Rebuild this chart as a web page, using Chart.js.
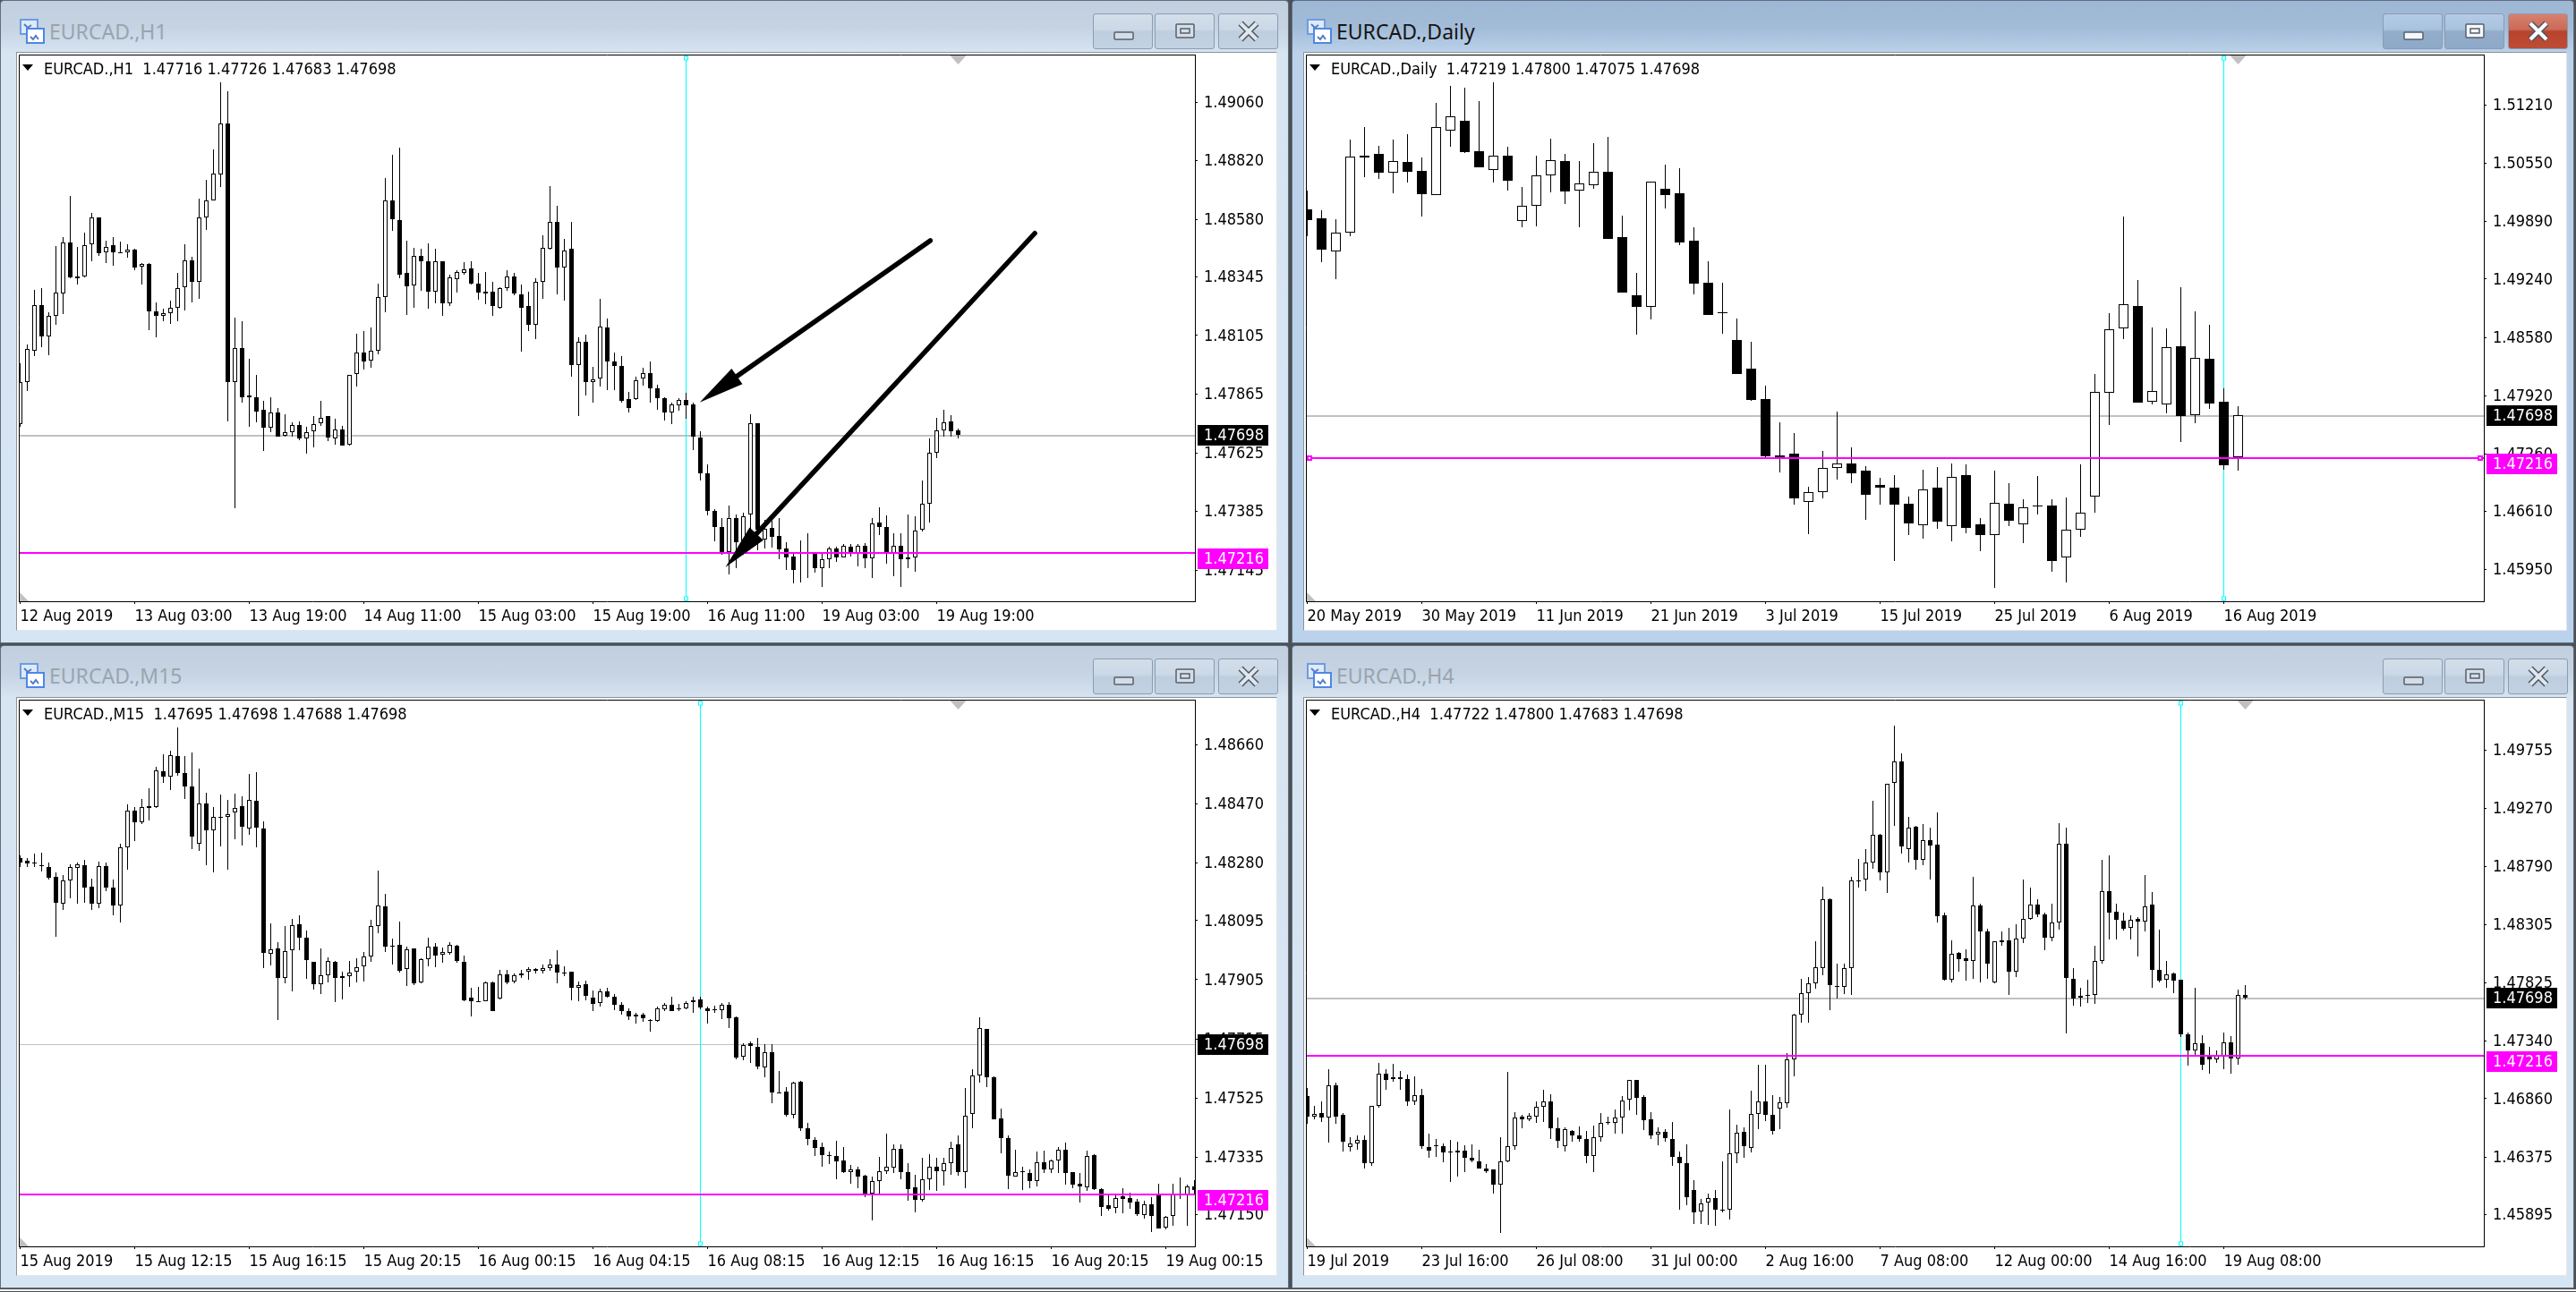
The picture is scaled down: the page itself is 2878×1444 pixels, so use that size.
<!DOCTYPE html>
<html>
<head>
<meta charset="utf-8">
<title>EURCAD</title>
<script src="https://cdn.jsdelivr.net/npm/chart.js@4"></script>
<style>
  html, body { margin: 0; padding: 0; width: 2878px; height: 1444px; background: #4d5054; overflow: hidden; }
  .win { position: absolute; box-sizing: border-box; border: 1px solid #5f6f80; border-radius: 4px 4px 0 0; }
  .client { position: absolute; background: #fff; box-sizing: border-box; border: 1px solid #e4e6e8; border-top-color: #8b9298; border-left-color: #8b9298; }
  .title { position: absolute; font: 23px "Noto Sans", "Open Sans", sans-serif; white-space: nowrap; }
  .btn { position: absolute; width: 67px; height: 40px; box-sizing: border-box; border: 1px solid #8a9db3; border-radius: 3px; }
  .icon, .btn svg { position: absolute; }
  .strip { position: absolute; left: 0; top: 1441px; width: 2878px; height: 2px; background: #f4f4f4; }
  canvas { position: absolute; }
</style>
</head>
<body>
<div class="strip"></div>
<script>
const h1Title = "EURCAD.,H1  1.47716 1.47726 1.47683 1.47698";
const dailyTitle = "EURCAD.,Daily  1.47219 1.47800 1.47075 1.47698";
const m15Title = "EURCAD.,M15  1.47695 1.47698 1.47688 1.47698";
const h4Title = "EURCAD.,H4  1.47722 1.47800 1.47683 1.47698";

const bidPrice = 1.47698;
const levelPrice = 1.47216;

// ---- H1 ----
const h1Labels = ["12 Aug 2019", "13 Aug 03:00", "13 Aug 19:00", "14 Aug 11:00", "15 Aug 03:00", "15 Aug 19:00", "16 Aug 11:00", "19 Aug 03:00", "19 Aug 19:00"];
const h1Ticks = [1.4906, 1.4882, 1.4858, 1.48345, 1.48105, 1.47865, 1.47625, 1.47385, 1.47145];
const h1Open = [
1.47742,1.47913,1.48044,1.48229,1.48100,1.48187,1.48276,1.48486,1.48340,1.48346,
1.48479,1.48588,1.48447,1.48474,1.48444,1.48444,1.48456,1.48385,1.48399,1.48202,
1.48187,1.48195,1.48217,1.48301,1.48412,1.48323,1.48587,1.48659,1.48765,1.48971,
1.47916,1.48052,1.47851,1.47851,1.47800,1.47727,1.47789,1.47696,1.47708,1.47740,
1.47683,1.47715,1.47747,1.47774,1.47683,1.47720,1.47659,1.47947,1.48034,1.48004,
1.48042,1.48261,1.48656,1.48578,1.48360,1.48311,1.48430,1.48410,1.48286,1.48409,
1.48236,1.48335,1.48360,1.48378,1.48316,1.48278,1.48286,1.48217,1.48298,1.48345,
1.48274,1.48224,1.48147,1.48326,1.48459,1.48568,1.48382,1.48459,1.47985,1.48081,
1.47916,1.47928,1.48138,1.47999,1.47982,1.47844,1.47844,1.47928,1.47953,1.47888,
1.47849,1.47792,1.47821,1.47842,1.47822,1.47686,1.47543,1.47386,1.47323,1.47219,
1.47360,1.47260,1.47372,1.47747,1.47271,1.47317,1.47285,1.47233,1.47201,1.47216,
1.47218,1.47216,1.47152,1.47189,1.47233,1.47196,1.47241,1.47216,1.47244,1.47192,
1.47340,1.47323,1.47216,1.47244,1.47189,1.47196,1.47310,1.47416,1.47627,1.47718,
1.47753,1.47716];
const h1High = [
1.47990,1.48069,1.48291,1.48299,1.48200,1.48472,1.48508,1.48676,1.48469,1.48526,
1.48607,1.48588,1.48493,1.48508,1.48489,1.48478,1.48461,1.48402,1.48402,1.48239,
1.48214,1.48246,1.48360,1.48478,1.48427,1.48666,1.48743,1.48866,1.49141,1.49104,
1.48178,1.48163,1.48010,1.47945,1.47836,1.47854,1.47809,1.47784,1.47750,1.47755,
1.47730,1.47777,1.47836,1.47777,1.47764,1.47735,1.47945,1.48113,1.48123,1.48138,
1.48318,1.48750,1.48844,1.48874,1.48494,1.48464,1.48461,1.48483,1.48461,1.48409,
1.48352,1.48373,1.48405,1.48407,1.48360,1.48365,1.48326,1.48304,1.48372,1.48360,
1.48313,1.48284,1.48340,1.48513,1.48716,1.48634,1.48501,1.48568,1.48096,1.48108,
1.47975,1.48254,1.48175,1.48037,1.48022,1.47873,1.47937,1.47974,1.47997,1.47903,
1.47851,1.47831,1.47848,1.47871,1.47831,1.47713,1.47579,1.47394,1.47360,1.47409,
1.47374,1.47380,1.47782,1.47747,1.47352,1.47347,1.47357,1.47260,1.47218,1.47268,
1.47296,1.47216,1.47218,1.47243,1.47243,1.47251,1.47251,1.47251,1.47256,1.47357,
1.47402,1.47370,1.47296,1.47296,1.47374,1.47364,1.47512,1.47683,1.47767,1.47802,
1.47780,1.47726];
const h1Low = [
1.47730,1.47878,1.48021,1.48058,1.48024,1.48150,1.48192,1.48338,1.48315,1.48343,
1.48410,1.48432,1.48402,1.48390,1.48441,1.48422,1.48373,1.48313,1.48126,1.48098,
1.48162,1.48153,1.48165,1.48207,1.48242,1.48256,1.48536,1.48656,1.48713,1.47753,
1.47399,1.47831,1.47733,1.47750,1.47632,1.47710,1.47690,1.47693,1.47693,1.47676,
1.47621,1.47649,1.47737,1.47674,1.47659,1.47654,1.47653,1.47898,1.47965,1.47974,
1.48029,1.48200,1.48533,1.48340,1.48189,1.48219,1.48288,1.48215,1.48237,1.48185,
1.48226,1.48281,1.48352,1.48315,1.48251,1.48234,1.48185,1.48215,1.48288,1.48271,
1.48039,1.48125,1.48091,1.48256,1.48456,1.48274,1.48247,1.47937,1.47775,1.47859,
1.47831,1.47896,1.47881,1.47881,1.47831,1.47789,1.47841,1.47901,1.47831,1.47802,
1.47757,1.47742,1.47797,1.47764,1.47638,1.47512,1.47370,1.47263,1.47209,1.47128,
1.47155,1.47209,1.47310,1.47226,1.47234,1.47239,1.47189,1.47145,1.47092,1.47095,
1.47112,1.47134,1.47075,1.47155,1.47179,1.47196,1.47201,1.47162,1.47155,1.47112,
1.47290,1.47172,1.47122,1.47078,1.47155,1.47139,1.47305,1.47340,1.47604,1.47691,
1.47691,1.47683];
const h1Close = [
1.47915,1.48049,1.48229,1.48100,1.48187,1.48281,1.48486,1.48341,1.48348,1.48476,
1.48588,1.48442,1.48469,1.48447,1.48441,1.48456,1.48383,1.48397,1.48202,1.48187,
1.48195,1.48217,1.48299,1.48412,1.48323,1.48587,1.48659,1.48766,1.48971,1.47915,
1.48052,1.47854,1.47858,1.47795,1.47727,1.47792,1.47693,1.47711,1.47738,1.47683,
1.47710,1.47743,1.47770,1.47686,1.47720,1.47656,1.47943,1.48034,1.48000,1.48044,
1.48261,1.48656,1.48582,1.48355,1.48308,1.48432,1.48409,1.48286,1.48409,1.48236,
1.48341,1.48363,1.48377,1.48318,1.48279,1.48283,1.48224,1.48298,1.48345,1.48276,
1.48220,1.48147,1.48326,1.48462,1.48568,1.48382,1.48454,1.47985,1.48078,1.47916,
1.47926,1.48140,1.48000,1.47979,1.47836,1.47807,1.47923,1.47952,1.47888,1.47848,
1.47792,1.47822,1.47841,1.47821,1.47690,1.47543,1.47389,1.47320,1.47219,1.47360,
1.47260,1.47364,1.47748,1.47310,1.47315,1.47280,1.47229,1.47199,1.47145,1.47214,
1.47216,1.47155,1.47191,1.47233,1.47199,1.47244,1.47216,1.47244,1.47192,1.47338,
1.47323,1.47219,1.47244,1.47189,1.47197,1.47307,1.47416,1.47627,1.47718,1.47750,
1.47715,1.47698];

// arrows on the H1 chart, in bar index and price
const h1ArrowFromBar = [127.1, 141.7];
const h1ArrowFromPrice = [1.48493, 1.48523];
const h1ArrowToBar = [94.9, 98.5];
const h1ArrowToPrice = [1.47831, 1.47157];

// ---- Daily ----
const dailyLabels = ["20 May 2019", "30 May 2019", "11 Jun 2019", "21 Jun 2019", "3 Jul 2019", "15 Jul 2019", "25 Jul 2019", "6 Aug 2019", "16 Aug 2019"];
const dailyTicks = [1.5121, 1.5055, 1.4989, 1.4924, 1.4858, 1.4792, 1.4726, 1.4661, 1.4595];
const dailyOpen = [
1.50028,1.49930,1.49549,1.49767,1.50632,1.50655,1.50446,1.50567,1.50460,1.50186,
1.50925,1.51027,1.50688,1.50479,1.50637,1.49893,1.50065,1.50418,1.50576,1.50246,
1.50307,1.50455,1.49716,1.49056,1.48921,1.50260,1.50214,1.49674,1.49200,1.48861,
1.48549,1.48228,1.47884,1.47247,1.47261,1.46712,1.46824,1.47098,1.47154,1.47070,
1.46912,1.46880,1.46698,1.46452,1.46880,1.46447,1.47024,1.46466,1.46340,1.46698,
1.46461,1.46675,1.46680,1.46084,1.46401,1.46773,1.47949,1.48679,1.48935,1.47847,
1.47819,1.48479,1.47698,1.48340,1.47851,1.47219];
const dailyHigh = [
1.50237,1.50014,1.49916,1.50818,1.50962,1.50748,1.50818,1.50879,1.50618,1.51237,
1.51427,1.51409,1.51255,1.51469,1.50739,1.50283,1.50637,1.50827,1.50655,1.50576,
1.50781,1.50851,1.49958,1.49312,1.50339,1.50535,1.50497,1.49828,1.49442,1.49200,
1.48795,1.48530,1.48033,1.47619,1.47498,1.46889,1.47293,1.47740,1.47335,1.47121,
1.46991,1.47024,1.46777,1.47084,1.47107,1.47154,1.47145,1.46535,1.47070,1.46931,
1.46749,1.47010,1.46749,1.46768,1.47145,1.48168,1.48856,1.49949,1.49228,1.48693,
1.48684,1.49149,1.48874,1.48721,1.48005,1.47800];
const dailyLow = [
1.49725,1.49432,1.49242,1.49725,1.50395,1.50372,1.50214,1.50335,1.49949,1.50186,
1.50739,1.50669,1.50507,1.50335,1.50242,1.49828,1.49837,1.50223,1.50088,1.49828,
1.50260,1.49698,1.49088,1.48614,1.48786,1.50042,1.49623,1.49070,1.48833,1.48623,
1.48168,1.47861,1.47224,1.47052,1.46689,1.46354,1.46759,1.46973,1.46931,1.46517,
1.46689,1.46043,1.46345,1.46303,1.46415,1.46270,1.46363,1.46159,1.45740,1.46447,
1.46247,1.46573,1.45931,1.45801,1.46317,1.46596,1.47591,1.48563,1.47842,1.47824,
1.47721,1.47396,1.47610,1.47772,1.47084,1.47075];
const dailyClose = [
1.49907,1.49572,1.49763,1.50628,1.50614,1.50446,1.50572,1.50455,1.50200,1.50958,
1.51079,1.50679,1.50507,1.50632,1.50349,1.50065,1.50409,1.50581,1.50228,1.50321,
1.50451,1.49698,1.49088,1.48926,1.50339,1.50190,1.49656,1.49191,1.48833,1.48851,
1.48168,1.47875,1.47233,1.47224,1.46759,1.46824,1.47098,1.47149,1.47042,1.46801,
1.46875,1.46689,1.46475,1.46856,1.46494,1.47005,1.46424,1.46345,1.46703,1.46508,
1.46652,1.46661,1.46043,1.46401,1.46591,1.47958,1.48670,1.48954,1.47842,1.47977,
1.48465,1.47689,1.48344,1.47833,1.47135,1.47698];

// ---- M15 ----
const m15Labels = ["15 Aug 2019", "15 Aug 12:15", "15 Aug 16:15", "15 Aug 20:15", "16 Aug 00:15", "16 Aug 04:15", "16 Aug 08:15", "16 Aug 12:15", "16 Aug 16:15", "16 Aug 20:15", "19 Aug 00:15"];
const m15Ticks = [1.4866, 1.4847, 1.4828, 1.48095, 1.47905, 1.47715, 1.47525, 1.47335, 1.4715];
const m15Open = [
1.48296,1.48287,1.48281,1.48273,1.48267,1.48237,1.48148,1.48223,1.48263,1.48274,
1.48205,1.48148,1.48271,1.48200,1.48143,1.48330,1.48448,1.48411,1.48457,1.48461,
1.48575,1.48559,1.48624,1.48570,1.48527,1.48342,1.48470,1.48384,1.48428,1.48429,
1.48442,1.48464,1.48392,1.48480,1.48391,1.47987,1.48006,1.47910,1.47999,1.48083,
1.48040,1.47962,1.47890,1.47920,1.47962,1.47910,1.47916,1.47930,1.47949,1.47979,
1.48078,1.48140,1.48015,1.48016,1.47940,1.48006,1.47896,1.47971,1.48012,1.47986,
1.47990,1.48014,1.47962,1.47848,1.47837,1.47836,1.47897,1.47844,1.47922,1.47900,
1.47918,1.47932,1.47940,1.47933,1.47942,1.47955,1.47929,1.47930,1.47878,1.47890,
1.47848,1.47829,1.47868,1.47849,1.47825,1.47804,1.47787,1.47792,1.47774,1.47774,
1.47809,1.47824,1.47813,1.47813,1.47832,1.47843,1.47813,1.47811,1.47807,1.47825,
1.47783,1.47657,1.47702,1.47690,1.47624,1.47671,1.47544,1.47545,1.47471,1.47576,
1.47427,1.47389,1.47366,1.47340,1.47338,1.47325,1.47287,1.47296,1.47276,1.47219,
1.47259,1.47289,1.47301,1.47362,1.47287,1.47238,1.47198,1.47264,1.47305,1.47289,
1.47316,1.47376,1.47287,1.47474,1.47597,1.47748,1.47592,1.47459,1.47397,1.47272,
1.47289,1.47284,1.47259,1.47318,1.47296,1.47325,1.47358,1.47287,1.47248,1.47239,
1.47340,1.47232,1.47179,1.47173,1.47208,1.47203,1.47191,1.47149,1.47182,1.47214,
1.47109,1.47145,1.47216,1.47216,1.47242];
const m15High = [
1.48304,1.48296,1.48310,1.48314,1.48281,1.48250,1.48241,1.48277,1.48281,1.48289,
1.48230,1.48285,1.48283,1.48227,1.48342,1.48469,1.48460,1.48485,1.48519,1.48590,
1.48631,1.48641,1.48717,1.48624,1.48636,1.48584,1.48506,1.48460,1.48501,1.48482,
1.48503,1.48493,1.48565,1.48572,1.48413,1.48087,1.48026,1.48078,1.48101,1.48113,
1.48062,1.47963,1.48006,1.47978,1.47965,1.47932,1.47966,1.47975,1.47995,1.48097,
1.48257,1.48180,1.48038,1.48093,1.48012,1.48007,1.47975,1.48040,1.48023,1.48009,
1.48027,1.48016,1.47982,1.47880,1.47882,1.47900,1.47900,1.47938,1.47938,1.47926,
1.47936,1.47945,1.47942,1.47954,1.47971,1.48001,1.47949,1.47932,1.47898,1.47902,
1.47869,1.47876,1.47880,1.47859,1.47832,1.47813,1.47799,1.47799,1.47779,1.47819,
1.47829,1.47849,1.47827,1.47835,1.47849,1.47849,1.47819,1.47821,1.47829,1.47832,
1.47786,1.47701,1.47706,1.47717,1.47697,1.47699,1.47613,1.47560,1.47577,1.47580,
1.47445,1.47398,1.47381,1.47354,1.47386,1.47366,1.47309,1.47305,1.47279,1.47272,
1.47336,1.47411,1.47376,1.47376,1.47314,1.47279,1.47334,1.47345,1.47332,1.47334,
1.47385,1.47406,1.47556,1.47618,1.47783,1.47748,1.47593,1.47491,1.47405,1.47358,
1.47305,1.47296,1.47354,1.47356,1.47328,1.47368,1.47382,1.47288,1.47283,1.47356,
1.47345,1.47235,1.47216,1.47219,1.47236,1.47220,1.47199,1.47196,1.47206,1.47248,
1.47146,1.47248,1.47268,1.47245,1.47261];
const m15Low = [
1.48267,1.48267,1.48267,1.48254,1.48227,1.48042,1.48128,1.48168,1.48148,1.48152,
1.48128,1.48135,1.48190,1.48111,1.48089,1.48259,1.48350,1.48404,1.48416,1.48456,
1.48538,1.48515,1.48562,1.48485,1.48326,1.48318,1.48274,1.48249,1.48332,1.48259,
1.48355,1.48335,1.48371,1.48331,1.47941,1.47951,1.47776,1.47894,1.47867,1.48001,
1.47909,1.47872,1.47860,1.47897,1.47832,1.47841,1.47882,1.47896,1.47898,1.47963,
1.48055,1.47993,1.47955,1.47929,1.47884,1.47888,1.47892,1.47949,1.47946,1.47961,
1.47985,1.47959,1.47835,1.47788,1.47835,1.47835,1.47805,1.47843,1.47890,1.47894,
1.47912,1.47904,1.47926,1.47925,1.47933,1.47892,1.47916,1.47840,1.47836,1.47839,
1.47804,1.47819,1.47847,1.47807,1.47792,1.47776,1.47763,1.47770,1.47739,1.47771,
1.47805,1.47803,1.47805,1.47811,1.47799,1.47809,1.47763,1.47799,1.47779,1.47750,
1.47649,1.47646,1.47637,1.47617,1.47591,1.47507,1.47539,1.47464,1.47460,1.47418,
1.47372,1.47338,1.47303,1.47312,1.47265,1.47283,1.47248,1.47235,1.47206,1.47131,
1.47219,1.47281,1.47283,1.47265,1.47195,1.47157,1.47192,1.47230,1.47226,1.47243,
1.47279,1.47276,1.47234,1.47429,1.47575,1.47559,1.47455,1.47348,1.47232,1.47271,
1.47230,1.47236,1.47240,1.47283,1.47283,1.47285,1.47247,1.47235,1.47188,1.47227,
1.47228,1.47146,1.47163,1.47153,1.47153,1.47169,1.47147,1.47137,1.47094,1.47105,
1.47102,1.47113,1.47199,1.47113,1.47216];
const m15Close = [
1.48283,1.48279,1.48278,1.48270,1.48234,1.48151,1.48223,1.48267,1.48275,1.48200,
1.48148,1.48270,1.48202,1.48145,1.48331,1.48448,1.48411,1.48460,1.48464,1.48578,
1.48559,1.48626,1.48570,1.48525,1.48364,1.48470,1.48384,1.48428,1.48425,1.48437,
1.48457,1.48397,1.48482,1.48393,1.47991,1.48002,1.47910,1.47997,1.48080,1.48039,
1.47967,1.47890,1.47920,1.47965,1.47910,1.47917,1.47929,1.47946,1.47979,1.48078,
1.48144,1.48011,1.48012,1.47933,1.48002,1.47892,1.47971,1.48011,1.47982,1.47993,
1.48016,1.47965,1.47839,1.47836,1.47836,1.47896,1.47805,1.47922,1.47896,1.47920,
1.47925,1.47940,1.47933,1.47943,1.47954,1.47928,1.47926,1.47878,1.47888,1.47853,
1.47828,1.47868,1.47851,1.47824,1.47803,1.47788,1.47792,1.47782,1.47776,1.47812,
1.47823,1.47805,1.47809,1.47829,1.47840,1.47815,1.47804,1.47808,1.47824,1.47782,
1.47656,1.47695,1.47691,1.47625,1.47673,1.47543,1.47541,1.47470,1.47575,1.47429,
1.47393,1.47365,1.47340,1.47338,1.47321,1.47287,1.47296,1.47272,1.47219,1.47259,
1.47289,1.47305,1.47362,1.47287,1.47232,1.47198,1.47264,1.47305,1.47289,1.47314,
1.47365,1.47288,1.47468,1.47597,1.47750,1.47592,1.47456,1.47395,1.47275,1.47287,
1.47287,1.47257,1.47318,1.47296,1.47324,1.47358,1.47284,1.47247,1.47240,1.47338,
1.47232,1.47175,1.47170,1.47203,1.47200,1.47188,1.47151,1.47182,1.47146,1.47106,
1.47143,1.47216,1.47215,1.47240,1.47230];

// ---- H4 ----
const h4Labels = ["19 Jul 2019", "23 Jul 16:00", "26 Jul 08:00", "31 Jul 00:00", "2 Aug 16:00", "7 Aug 08:00", "12 Aug 00:00", "14 Aug 16:00", "19 Aug 08:00"];
const h4Ticks = [1.49755, 1.4927, 1.4879, 1.48305, 1.47825, 1.4734, 1.4686, 1.46375, 1.45895];
const h4Open = [
1.46882,1.46710,1.46741,1.46703,1.46974,1.46724,1.46460,1.46487,1.46518,1.46326,
1.46799,1.47067,1.47036,1.47036,1.47026,1.46837,1.46889,1.46460,1.46470,1.46467,
1.46419,1.46415,1.46429,1.46371,1.46340,1.46281,1.46271,1.46148,1.46340,1.46463,
1.46707,1.46690,1.46710,1.46792,1.46837,1.46614,1.46467,1.46594,1.46556,1.46525,
1.46384,1.46542,1.46666,1.46659,1.46703,1.46854,1.47012,1.46871,1.46686,1.46559,
1.46587,1.46525,1.46377,1.46326,1.46100,1.45925,1.45997,1.46034,1.45938,1.45938,
1.46405,1.46587,1.46453,1.46734,1.46837,1.46727,1.46779,1.46823,1.47187,1.47561,
1.47736,1.47818,1.47945,1.48518,1.47797,1.47787,1.47945,1.48676,1.48679,1.48820,
1.49049,1.48741,1.49482,1.49660,1.48933,1.49115,1.48844,1.49008,1.48967,1.48381,
1.47845,1.48068,1.48024,1.48007,1.48466,1.48250,1.47825,1.48161,1.48178,1.47918,
1.48188,1.48353,1.48473,1.48391,1.48195,1.48322,1.48977,1.47856,1.47698,1.47722,
1.47722,1.48003,1.48583,1.48415,1.48339,1.48278,1.48350,1.48333,1.48470,1.47931,
1.47849,1.47897,1.47845,1.47393,1.47262,1.47321,1.47218,1.47190,1.47218,1.47328,
1.47194,1.47722];
const h4High = [
1.46950,1.46803,1.46837,1.47108,1.46995,1.46738,1.46542,1.46556,1.46556,1.46803,
1.47159,1.47105,1.47146,1.47087,1.47057,1.47043,1.46943,1.46573,1.46522,1.46487,
1.46515,1.46504,1.46470,1.46477,1.46439,1.46316,1.46275,1.46539,1.47081,1.46751,
1.46727,1.46738,1.46837,1.46937,1.46899,1.46703,1.46618,1.46597,1.46631,1.46590,
1.46635,1.46741,1.46710,1.46772,1.46882,1.47019,1.47012,1.46892,1.46751,1.46624,
1.46607,1.46666,1.46419,1.46480,1.46185,1.46024,1.46069,1.46103,1.46336,1.46768,
1.46642,1.46618,1.46923,1.47139,1.47139,1.46892,1.46875,1.47242,1.47568,1.47852,
1.47870,1.48168,1.48624,1.48525,1.47979,1.47979,1.48700,1.48854,1.48933,1.49334,
1.49060,1.49478,1.49955,1.49729,1.49197,1.49128,1.49142,1.49111,1.49238,1.48408,
1.48175,1.48075,1.48099,1.48700,1.48480,1.48271,1.48171,1.48250,1.48278,1.48305,
1.48682,1.48610,1.48514,1.48408,1.48483,1.49145,1.49108,1.47948,1.47784,1.47845,
1.48127,1.48847,1.48878,1.48483,1.48408,1.48381,1.48367,1.48720,1.48573,1.48261,
1.48003,1.47904,1.47845,1.47410,1.47784,1.47386,1.47293,1.47259,1.47406,1.47379,
1.47767,1.47800];
const h4Low = [
1.46652,1.46686,1.46666,1.46494,1.46648,1.46419,1.46419,1.46436,1.46278,1.46299,
1.46786,1.46930,1.47002,1.46937,1.46803,1.46806,1.46446,1.46367,1.46374,1.46333,
1.46165,1.46216,1.46247,1.46329,1.46281,1.46240,1.46069,1.45743,1.46333,1.46439,
1.46611,1.46676,1.46659,1.46666,1.46522,1.46449,1.46422,1.46504,1.46504,1.46323,
1.46247,1.46504,1.46642,1.46570,1.46566,1.46762,1.46727,1.46597,1.46528,1.46473,
1.46504,1.46299,1.45938,1.45973,1.45818,1.45818,1.45808,1.45801,1.45918,1.45853,
1.46323,1.46367,1.46412,1.46607,1.46672,1.46563,1.46607,1.46786,1.47043,1.47489,
1.47492,1.47770,1.47887,1.47592,1.47695,1.47732,1.47722,1.48614,1.48580,1.48768,
1.48676,1.48566,1.49128,1.48899,1.48820,1.48765,1.48802,1.48682,1.48322,1.47842,
1.47825,1.47911,1.47839,1.47852,1.47825,1.47852,1.47821,1.48127,1.47725,1.47873,
1.48151,1.48346,1.48367,1.48096,1.48164,1.48261,1.47403,1.47629,1.47626,1.47653,
1.47650,1.47979,1.48185,1.48185,1.48254,1.48185,1.48038,1.48250,1.47780,1.47825,
1.47784,1.47736,1.47369,1.47132,1.47225,1.47094,1.47070,1.47153,1.47105,1.47070,
1.47139,1.47683];
const h4Close = [
1.46707,1.46734,1.46700,1.46971,1.46714,1.46504,1.46491,1.46518,1.46323,1.46799,
1.47067,1.47012,1.47022,1.47022,1.46837,1.46889,1.46467,1.46429,1.46463,1.46415,
1.46412,1.46429,1.46371,1.46343,1.46281,1.46254,1.46148,1.46340,1.46467,1.46703,
1.46686,1.46720,1.46792,1.46837,1.46614,1.46508,1.46604,1.46556,1.46522,1.46384,
1.46542,1.46659,1.46655,1.46703,1.46844,1.47016,1.46865,1.46683,1.46556,1.46587,
1.46532,1.46377,1.46326,1.46041,1.45918,1.45990,1.46031,1.45938,1.45935,1.46408,
1.46580,1.46467,1.46734,1.46837,1.46727,1.46590,1.46830,1.47187,1.47561,1.47736,
1.47818,1.47955,1.48518,1.47804,1.47787,1.47945,1.48672,1.48669,1.48820,1.49053,
1.48741,1.49475,1.49660,1.48953,1.49111,1.48844,1.49008,1.48964,1.48374,1.47849,
1.48065,1.48017,1.48003,1.48466,1.48250,1.47983,1.48164,1.48178,1.47911,1.48188,
1.48353,1.48473,1.48387,1.48195,1.48322,1.48977,1.47863,1.47691,1.47715,1.47712,
1.48003,1.48583,1.48408,1.48346,1.48274,1.48346,1.48329,1.48456,1.47928,1.47839,
1.47894,1.47842,1.47393,1.47262,1.47321,1.47139,1.47187,1.47218,1.47328,1.47194,
1.47722,1.47698];

const fontFamily = '"DejaVu Sans Condensed", "DejaVu Sans", sans-serif';
const chartFont = `18px ${fontFamily}`;

function addDiv(parent, cls, css) {
  const el = document.createElement("div");
  el.className = cls;
  Object.assign(el.style, css);
  parent.appendChild(el);
  return el;
}

function addIcon(parent, x, y) {
  const el = addDiv(parent, "icon", { left: x + "px", top: y + "px", width: "28px", height: "28px" });
  el.innerHTML = '<svg width="28" height="28" style="position:absolute">' +
    '<rect x="1" y="1" width="19" height="16" fill="#dfeaf8" stroke="#6f9be0" stroke-width="2"/>' +
    '<rect x="8" y="11" width="19" height="16" fill="#fff" stroke="#4f86e8" stroke-width="2"/>' +
    '<path d="M5 6l4 4 4-3M12 20l3 3 3-4 3 4" fill="none" stroke="#4f7fc8" stroke-width="2"/></svg>';
}

function addButtons(win, cfg) {
  const glyphColor = cfg.active ? "#f4f8fc" : "#d5dee8";
  const fill = cfg.active
    ? "linear-gradient(#b3cbe6 0%, #a9c2de 45%, #92acca 50%, #8fa9c8 100%)"
    : "linear-gradient(#d3deea 0%, #cbd8e6 45%, #bfcedf 50%, #c3d2e2 100%)";
  const closeFill = "linear-gradient(#d9806f 0%, #c96a57 45%, #b8432c 50%, #bd4d36 100%)";
  const right = cfg.clientRight;
  const xs = [right - 207.5, right - 138, right - 67.5];
  ["min", "max", "close"].forEach((kind, i) => {
    const b = addDiv(win, "btn", {
      left: (xs[i] - cfg.x) + "px", top: "14px", background: kind === "close" && cfg.active ? closeFill : fill,
    });
    let glyph = "";
    if (kind === "min") glyph = `<rect x="23" y="20" width="21" height="8" rx="1" fill="${glyphColor}" stroke="#55606c" stroke-width="1.5"/>`;
    if (kind === "max") glyph = `<rect x="23" y="11" width="20" height="15" rx="1" fill="${glyphColor}" stroke="#55606c" stroke-width="1.5"/><rect x="28" y="16" width="10" height="5" fill="none" stroke="#55606c" stroke-width="1.5"/>`;
    if (kind === "close") glyph = `<path d="M24 10l18 18M42 10l-18 18" stroke="#4a5560" stroke-width="7"/><path d="M24 10l18 18M42 10l-18 18" stroke="${cfg.active ? "#fff" : "#dfe6ee"}" stroke-width="4"/>`;
    b.innerHTML = `<svg width="65" height="38" style="left:0;top:0">${glyph}</svg>`;
  });
}

function windowPlugin(cfg) {
  return {
    id: "mt4Objects",
    // bars land on whole pixels so wicks and bodies stay sharp
    afterDatasetsUpdate(chart) {
      chart.getSortedVisibleDatasetMetas().forEach((meta) => {
        meta.data.forEach((bar) => {
          bar.y = Math.round(bar.y);
          bar.base = Math.round(bar.base);
          if (bar.y === bar.base) bar.base = bar.y + 1;
        });
      });
    },
    beforeDatasetsDraw(chart) {
      const { ctx, chartArea: a, scales: { x, y } } = chart;
      ctx.save();
      const by = Math.round(y.getPixelForValue(bidPrice));
      ctx.fillStyle = "#c0c0c0";
      ctx.fillRect(a.left, by, a.right - a.left, cfg.bidWidth);
      const vx = Math.round(x.getPixelForValue(cfg.cursorBar) - 0.5) + 0.5;
      ctx.strokeStyle = "#00ffff";
      ctx.lineWidth = 1;
      ctx.beginPath(); ctx.moveTo(vx, a.top); ctx.lineTo(vx, a.bottom); ctx.stroke();
      ctx.fillStyle = "#fff";
      [a.top + 2, a.bottom - 5].forEach((hy) => {
        ctx.fillRect(vx - 2, hy, 4, 4);
        ctx.strokeRect(vx - 2, hy, 4, 4);
      });
      ctx.restore();
    },
    afterDatasetsDraw(chart) {
      const { ctx, chartArea: a, scales: { x, y } } = chart;
      ctx.save();
      ctx.beginPath(); ctx.rect(a.left, a.top, a.right - a.left, a.bottom - a.top); ctx.clip();
      const ly = Math.round(y.getPixelForValue(levelPrice));
      ctx.fillStyle = "#ff00ff";
      ctx.fillRect(a.left, ly - 1, a.right - a.left, 2);
      if (cfg.levelHandles) {
        [a.left + 1, a.right - 7].forEach((hx) => {
          ctx.fillStyle = "#ff00ff";
          ctx.fillRect(hx, ly - 3, 6, 6);
          ctx.fillStyle = "#fff";
          ctx.fillRect(hx + 2, ly - 1, 2, 2);
        });
      }
      // the scroll marker at the top and the corner mark
      ctx.fillStyle = "#c0c0c0";
      const mx = x.getPixelForValue(cfg.lastBar);
      ctx.beginPath(); ctx.moveTo(mx - 9, a.top + 1); ctx.lineTo(mx + 9, a.top + 1); ctx.lineTo(mx, a.top + 11); ctx.fill();
      ctx.beginPath(); ctx.moveTo(a.left + 1, a.bottom - 10); ctx.lineTo(a.left + 11, a.bottom); ctx.lineTo(a.left + 1, a.bottom); ctx.fill();
      if (cfg.arrows) {
        cfg.arrows.fromBar.forEach((b, i) => {
          const x0 = x.getPixelForValue(b), y0 = y.getPixelForValue(cfg.arrows.fromPrice[i]);
          const x1 = x.getPixelForValue(cfg.arrows.toBar[i]), y1 = y.getPixelForValue(cfg.arrows.toPrice[i]);
          const len = Math.hypot(x1 - x0, y1 - y0);
          const ux = (x1 - x0) / len, uy = (y1 - y0) / len;
          ctx.strokeStyle = "#000";
          ctx.lineWidth = 5.5;
          ctx.lineCap = "round";
          ctx.beginPath(); ctx.moveTo(x0, y0); ctx.lineTo(x1 - ux * 40, y1 - uy * 40); ctx.stroke();
          ctx.fillStyle = "#000";
          ctx.beginPath();
          ctx.moveTo(x1, y1);
          ctx.lineTo(x1 - ux * 51 - uy * 10.5, y1 - uy * 51 + ux * 10.5);
          ctx.lineTo(x1 - ux * 51 + uy * 10.5, y1 - uy * 51 - ux * 10.5);
          ctx.fill();
        });
      }
      ctx.restore();
      ctx.save();
      ctx.strokeStyle = "#000";
      ctx.lineWidth = 1;
      ctx.beginPath(); ctx.moveTo(a.left + 0.5, a.bottom); ctx.lineTo(a.left + 0.5, a.top + 0.5); ctx.lineTo(a.right, a.top + 0.5); ctx.stroke();
      ctx.fillStyle = "#000";
      ctx.beginPath(); ctx.moveTo(a.left + 4, a.top + 11); ctx.lineTo(a.left + 16, a.top + 11); ctx.lineTo(a.left + 10, a.top + 18); ctx.fill();
      ctx.font = chartFont;
      ctx.textBaseline = "middle";
      ctx.fillText(cfg.header, a.left + 28, a.top + 17);
      ctx.restore();
    },
    afterDraw(chart) {
      const { ctx, chartArea: a, scales: { y } } = chart;
      const box = (price, bg, shift) => {
        const cy = Math.round(y.getPixelForValue(price)) + shift;
        ctx.fillStyle = bg;
        ctx.fillRect(a.right + 3, cy - 11, 79, 23);
        ctx.fillStyle = "#fff";
        ctx.font = chartFont;
        ctx.textBaseline = "middle";
        ctx.textAlign = "left";
        ctx.fillText(price.toFixed(5), a.right + 10, cy + 1);
      };
      ctx.save();
      box(levelPrice, "#ff00ff", 6);
      box(bidPrice, "#000", 0);
      ctx.restore();
    },
  };
}

function addChartWindow(cfg) {
  const win = addDiv(document.body, "win", {
    left: cfg.x + "px", top: cfg.y + "px", width: cfg.w + "px", height: cfg.h + "px",
    background: cfg.active
      ? "linear-gradient(#9db7d4 0, #a2bbd7 30px, #bcd2ea 58px, #bad2ec 100%)"
      : "linear-gradient(#c1cfde 0, #c5d3e2 30px, #d7e4f2 58px, #d6e5f4 100%)",
  });
  addIcon(win, cfg.iconX - cfg.x, cfg.y ? 19 : 20);
  addDiv(win, "title", { left: (cfg.iconX + 33 - cfg.x) + "px", top: cfg.y ? "17px" : "18px", color: cfg.active ? "#151515" : "#9aa4ae" }).textContent = cfg.title;
  addButtons(win, cfg);
  addDiv(document.body, "client", {
    left: (cfg.plotX - 3) + "px", top: (cfg.plotY - 3) + "px",
    width: (cfg.clientRight - cfg.plotX + 3) + "px", height: (cfg.plotH + 36) + "px",
  });

  const yAxisWidth = 90, xAxisHeight = 30;
  const canvas = document.createElement("canvas");
  canvas.width = cfg.plotW + yAxisWidth;
  canvas.height = cfg.plotH + xAxisHeight;
  canvas.style.left = cfg.plotX + "px";
  canvas.style.top = cfg.plotY + "px";
  canvas.style.width = canvas.width + "px";
  canvas.style.height = canvas.height + "px";
  document.body.appendChild(canvas);

  const bodyColors = cfg.close.map((c, i) => (c >= cfg.open[i] ? "#ffffff" : "#000000"));
  const firstPx = 1.5;
  const tickFont = { family: fontFamily, size: 18 };

  new Chart(canvas.getContext("2d"), {
    type: "bar",
    data: {
      datasets: [
        {
          label: "body",
          data: cfg.open.map((o, i) => ({ x: i, y: [o, cfg.close[i]] })),
          grouped: false,
          barThickness: cfg.bodyWidth,
          backgroundColor: bodyColors,
          borderColor: "#000000",
          borderWidth: 1,
          borderSkipped: false,
          inflateAmount: 0,
        },
        {
          label: "wick",
          data: cfg.high.map((h, i) => ({ x: i, y: [cfg.low[i], h] })),
          grouped: false,
          barThickness: 1,
          backgroundColor: "#000000",
          borderWidth: 0,
          inflateAmount: 0,
        },
      ],
    },
    plugins: [windowPlugin(cfg)],
    options: {
      responsive: false,
      animation: false,
      devicePixelRatio: 1,
      layout: { padding: 0 },
      plugins: { legend: { display: false }, tooltip: { enabled: false }, title: { display: false } },
      scales: {
        x: {
          type: "linear",
          offset: false,
          min: -firstPx / cfg.barStep,
          max: (cfg.plotW - firstPx) / cfg.barStep,
          grid: { display: true, offset: false, drawOnChartArea: false, drawTicks: true, tickLength: 3, tickColor: "#000" },
          border: { display: true, color: "#000", width: 1 },
          afterBuildTicks: (s) => { s.ticks = cfg.labels.map((_, i) => ({ value: i * cfg.labelEvery })); },
          afterFit: (s) => { s.height = xAxisHeight; s.paddingLeft = 0; s.paddingRight = 0; },
          ticks: {
            autoSkip: false, maxRotation: 0, minRotation: 0, align: "start", padding: 4,
            color: "#000", font: tickFont,
            callback: (v) => cfg.labels[Math.round(v / cfg.labelEvery)],
          },
        },
        y: {
          type: "linear",
          position: "right",
          min: cfg.priceMin,
          max: cfg.priceMax,
          beginAtZero: false,
          grid: { display: true, drawOnChartArea: false, drawTicks: true, tickLength: 3, tickColor: "#000" },
          border: { display: true, color: "#000", width: 1 },
          afterBuildTicks: (s) => { s.ticks = cfg.yTicks.map((value) => ({ value })); },
          afterFit: (s) => { s.width = yAxisWidth; s.paddingTop = 0; s.paddingBottom = 0; },
          ticks: {
            autoSkip: false, padding: 7, labelOffset: 1, color: "#000", font: tickFont,
            callback: (v) => v.toFixed(5),
          },
        },
      },
    },
  });
}

addChartWindow({
  title: "EURCAD.,H1", header: h1Title, x: 0, y: 0, w: 1440, h: 719, iconX: 21, clientRight: 1427, bidWidth: 2,
  plotX: 21, plotY: 61, plotW: 1314, plotH: 611, barStep: 8, bodyWidth: 5, labelEvery: 16,
  priceMin: 1.47018, priceMax: 1.49254, yTicks: h1Ticks, labels: h1Labels,
  open: h1Open, high: h1High, low: h1Low, close: h1Close, cursorBar: 93, lastBar: 131,
  arrows: { fromBar: h1ArrowFromBar, fromPrice: h1ArrowFromPrice, toBar: h1ArrowToBar, toPrice: h1ArrowToPrice },
});
addChartWindow({
  title: "EURCAD.,Daily", header: dailyTitle, x: 1443, y: 0, w: 1433, h: 719, iconX: 1459, clientRight: 2868, active: true, bidWidth: 2,
  plotX: 1459, plotY: 61, plotW: 1316, plotH: 611, barStep: 16, bodyWidth: 11, labelEvery: 8,
  priceMin: 1.45592, priceMax: 1.51781, yTicks: dailyTicks, labels: dailyLabels,
  open: dailyOpen, high: dailyHigh, low: dailyLow, close: dailyClose, cursorBar: 64, lastBar: 65, levelHandles: true,
});
addChartWindow({
  title: "EURCAD.,M15", header: m15Title, x: 0, y: 721, w: 1440, h: 719, iconX: 21, clientRight: 1427, bidWidth: 1,
  plotX: 21, plotY: 782, plotW: 1314, plotH: 611, barStep: 8, bodyWidth: 5, labelEvery: 16,
  priceMin: 1.47048, priceMax: 1.48805, yTicks: m15Ticks, labels: m15Labels,
  open: m15Open, high: m15High, low: m15Low, close: m15Close, cursorBar: 95, lastBar: 131,
});
addChartWindow({
  title: "EURCAD.,H4", header: h4Title, x: 1443, y: 721, w: 1433, h: 719, iconX: 1459, clientRight: 2868, bidWidth: 2,
  plotX: 1459, plotY: 782, plotW: 1316, plotH: 611, barStep: 8, bodyWidth: 5, labelEvery: 16,
  priceMin: 1.45633, priceMax: 1.50174, yTicks: h4Ticks, labels: h4Labels,
  open: h4Open, high: h4High, low: h4Low, close: h4Close, cursorBar: 122, lastBar: 131,
});
</script>
</body>
</html>
